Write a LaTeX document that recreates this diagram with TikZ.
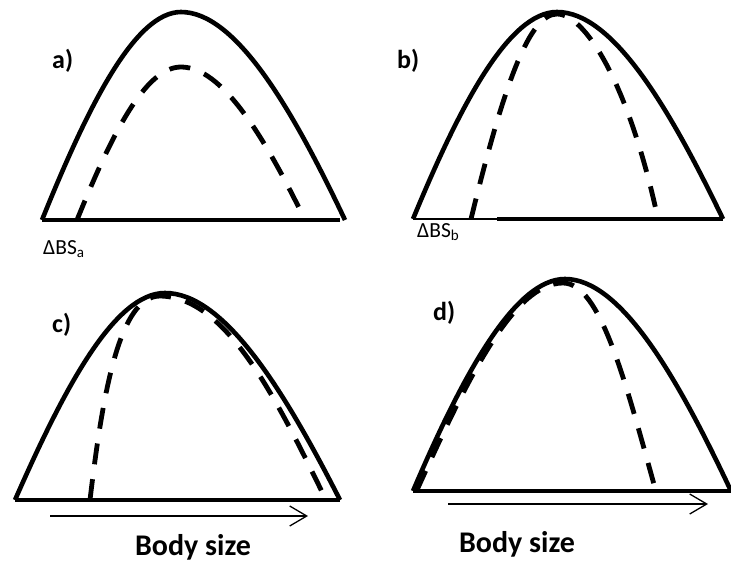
\documentclass[tikz,border=0pt]{standalone}
\usepackage{fontspec}
\setmainfont{Carlito}
\usetikzlibrary{arrows.meta}
\begin{document}
\begin{tikzpicture}[x=1pt,y=-1pt,
  solidc/.style={line width=4.6pt},
  dashc/.style={line width=4.8pt,dash pattern=on 21pt off 15pt},
  basel/.style={line width=3.4pt},
  thinbase/.style={line width=2.2pt},
  axisarrow/.style={line width=1.3pt,-{Straight Barb[length=17pt,width=20pt,line width=1.3pt]}},
  panellabel/.style={font=\bfseries\fontsize{26}{29}\selectfont,inner sep=0pt,anchor=base west},
  bslabel/.style={font=\fontsize{21.5}{24}\selectfont,inner sep=0pt,anchor=base west},
  axislabel/.style={font=\bfseries\fontsize{30}{34}\selectfont,inner sep=0pt,anchor=base}]
\useasboundingbox (0,0) rectangle (731,565);
% ---- panel a
\coordinate (aL) at (42,220); \coordinate (aP) at (181,12); \coordinate (aR) at (345,220);
\draw[solidc] (aL) .. controls (88,106) and (135,12) .. (aP) .. controls (235,12) and (291,106) .. (aR);
\draw[dashc] (77,220) .. controls (111,136) and (145,67) .. (181,67) .. controls (222,67) and (264,136) .. (305,220);
\coordinate (aB1) at (42,220); \coordinate (aB2) at (340,220);
\draw[basel] (aB1) -- (aB2);
\node[panellabel] (la) at (52,68) {a)};
\node[bslabel] (dba) at (43,254) {ΔBS\textsubscript{a}};
% ---- panel b
\coordinate (bL) at (413,219); \coordinate (bP) at (557,12); \coordinate (bR) at (723,219);
\draw[solidc] (bL) .. controls (460,105) and (509,12) .. (bP) .. controls (612,12) and (668,105) .. (bR);
\draw[dashc] (471,219) .. controls (505,80) and (530,14) .. (557,14) .. controls (584,14) and (628,80) .. (658,219);
\coordinate (bB1) at (413,219); \coordinate (bBm) at (497,219); \coordinate (bB2) at (723,219);
\draw[thinbase] (bB1) -- (bBm);
\draw[basel] (bBm) -- (bB2);
\node[panellabel] (lb) at (397,68) {b)};
\node[bslabel] (dbb) at (417,237) {ΔBS\textsubscript{b}};
% ---- panel c
\coordinate (cL) at (15,500); \coordinate (cP) at (165,293); \coordinate (cR) at (340,500);
\draw[solidc] (cL) .. controls (65,386) and (115,293) .. (cP) .. controls (223,293) and (282,386) .. (cR);
\draw[dashc] (90,500) .. controls (103,390) and (120,296) .. (160,296) .. controls (225,297) and (274,393) .. (326,500);
\coordinate (cB1) at (15,500); \coordinate (cB2) at (340,500);
\draw[basel] (cB1) -- (cB2);
\coordinate (cA1) at (50,516); \coordinate (cA2) at (308,516);
\draw[axisarrow] (cA1) -- (cA2);
\node[panellabel] (lc) at (52,332) {c)};
\node[axislabel] (xc) at (193,555) {Body size};
% ---- panel d
\coordinate (dL) at (413,491); \coordinate (dP) at (565,279); \coordinate (dR) at (731,491);
\draw[solidc] (dL) .. controls (463,374) and (515,279) .. (dP) .. controls (620,279) and (676,374) .. (dR);
\draw[dashc] (417,490) .. controls (468,377) and (514,283) .. (563,283) .. controls (600,283) and (625,380) .. (655,488);
\coordinate (dB1) at (413,491); \coordinate (dB2) at (731,491);
\draw[basel] (dB1) -- (dB2);
\coordinate (dA1) at (448,504); \coordinate (dA2) at (708,504);
\draw[axisarrow] (dA1) -- (dA2);
\node[panellabel] (ld) at (433,320) {d)};
\node[axislabel] (xd) at (517,552) {Body size};
\end{tikzpicture}
\end{document}
